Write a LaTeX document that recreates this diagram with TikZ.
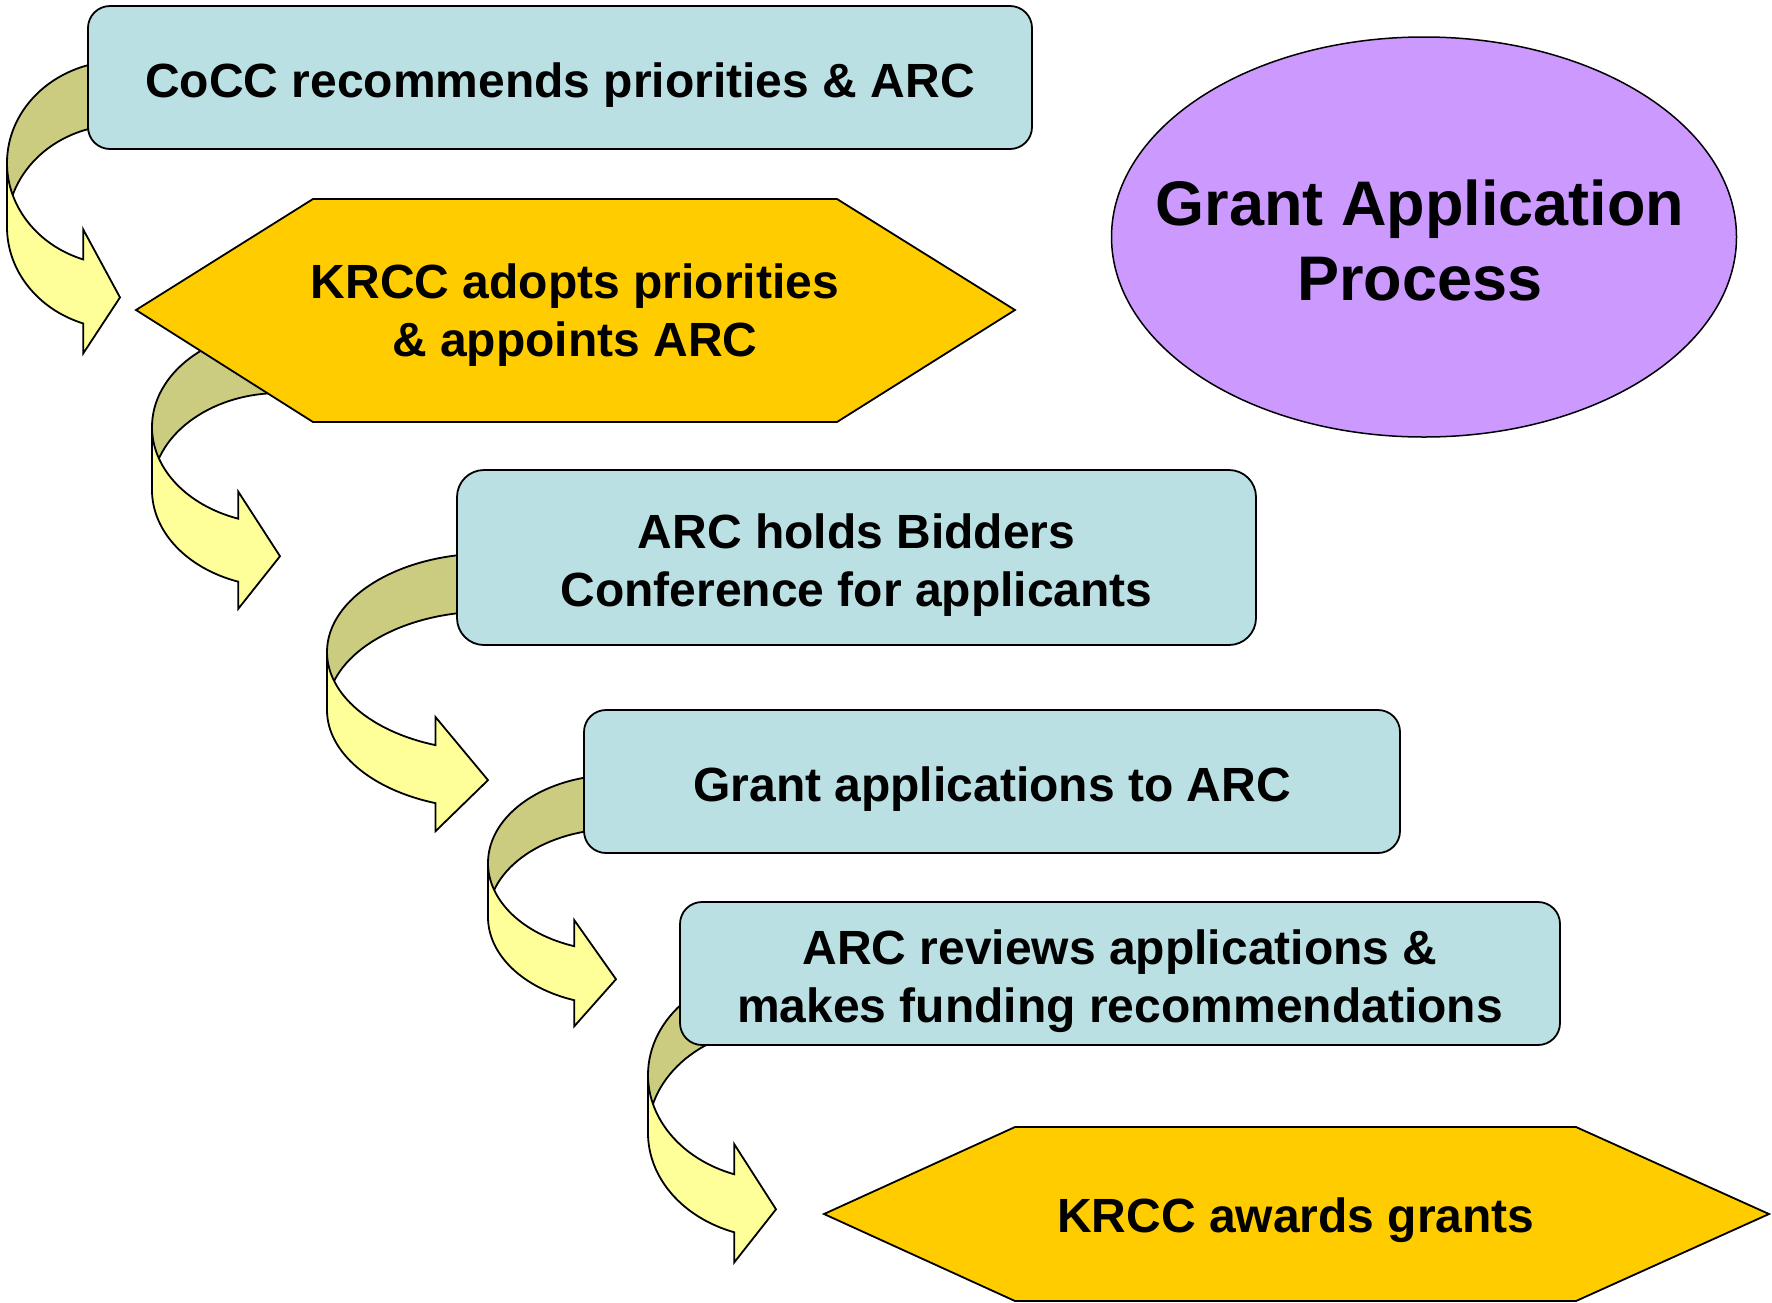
\documentclass[tikz,border=0pt]{standalone}
\usepackage{fontspec}
\setmainfont{Liberation Sans}
\usetikzlibrary{shapes.geometric,backgrounds}
\definecolor{cus-blue}{RGB}{187, 224, 227}
\definecolor{cus-gold}{RGB}{255, 204, 0}
\definecolor{cus-lilac}{RGB}{204, 153, 255}
\definecolor{cus-cream}{RGB}{255, 255, 153}
\definecolor{cus-olive}{RGB}{204, 204, 128}
\tikzset{
	band/.style={draw=black, line width=1.8pt},
	stepbox/.style={draw=black, line width=1.8pt, fill=cus-blue, rounded corners=22pt, inner sep=0pt},
	steptext/.style={align=center, font=\bfseries\fontsize{48}{58}\selectfont},
	hexa/.style={draw=black, line width=1.8pt, fill=cus-gold},
	oval/.style={draw=black, line width=1.5pt, fill=cus-lilac, ellipse, inner sep=0pt, minimum width=625pt, minimum height=400pt},
	titletext/.style={align=center, font=\bfseries\fontsize{63}{75}\selectfont}
}
% curved ribbon arrow: centre x, centre y (down), x radius, y radius, thickness, barb
\newcommand{\uturn}[6]{
	\begin{scope}[shift={(#1,-#2)}]
		\draw [band,fill=cus-olive] (90:#3 and #4) arc [start angle=90, end angle=180, x radius=#3, y radius=#4]
			-- ++(0,-#5) arc [start angle=180, end angle=90, x radius=#3, y radius=#4] -- cycle;
		\draw [band,fill=cus-cream] (180:#3 and #4) arc [start angle=180, end angle=251, x radius=#3, y radius=#4]
			-- ++(0,#6) -- ({0},{#4*sin(251)-#5/2-6}) -- ({#3*cos(251)},{#4*sin(251)-#5-#6})
			-- ++(0,#6) arc [start angle=251, end angle=180, x radius=#3, y radius=#4] -- cycle;
	\end{scope}
}

\begin{document}
\begin{tikzpicture}[x=1pt, y=1pt]
	\useasboundingbox (0,0) rectangle (1772,-1302);

	\node [oval] (title) at (1424,-237) {};
	\node [titletext] (titlelabel) at (1420,-240) {Grant Application\\Process};

	% steps
	\node [stepbox, minimum width=944pt, minimum height=143pt] (cocc) at (560,-77.5) {};
	\node [steptext] at ([yshift=-7.5pt]cocc.center) {CoCC recommends priorities \& ARC};

	\draw [hexa] (136,-310) -- (313,-199) -- (837,-199) -- (1015,-310) -- (837,-422) -- (313,-422) -- cycle;
	\node [steptext] (adopt) at (575,-315.5) {KRCC adopts priorities\\\& appoints ARC};

	\node [stepbox, rounded corners=27pt, minimum width=799pt, minimum height=175pt] (bidders) at (856.5,-557.5) {};
	\node [steptext] at ([yshift=-7.5pt]bidders.center) {ARC holds Bidders\\Conference for applicants};

	\node [stepbox, minimum width=816pt, minimum height=143pt] (apply) at (992,-781.5) {};
	\node [steptext] at ([yshift=-7.5pt]apply.center) {Grant applications to ARC};

	\node [stepbox, minimum width=880pt, minimum height=143pt] (review) at (1120,-973.5) {};
	\node [steptext] at ([yshift=-7.5pt]review.center) {ARC reviews applications \&\\makes funding recommendations};

	\draw [hexa] (824,-1214) -- (1015,-1127) -- (1576,-1127) -- (1769,-1214) -- (1576,-1301) -- (1015,-1301) -- cycle;
	\node [steptext] (award) at (1296,-1220) {KRCC awards grants};

	% arrows behind the steps
	\begin{scope}[on background layer]
		\uturn{120}{163}{113}{102}{64}{30}
		\uturn{280}{427}{128}{97}{63}{27}
		\uturn{488}{652}{161}{98.5}{58}{28}
		\uturn{616}{863}{128}{88}{54}{26}
		\uturn{776}{1075}{128}{105}{58}{30}
	\end{scope}
\end{tikzpicture}
\end{document}
